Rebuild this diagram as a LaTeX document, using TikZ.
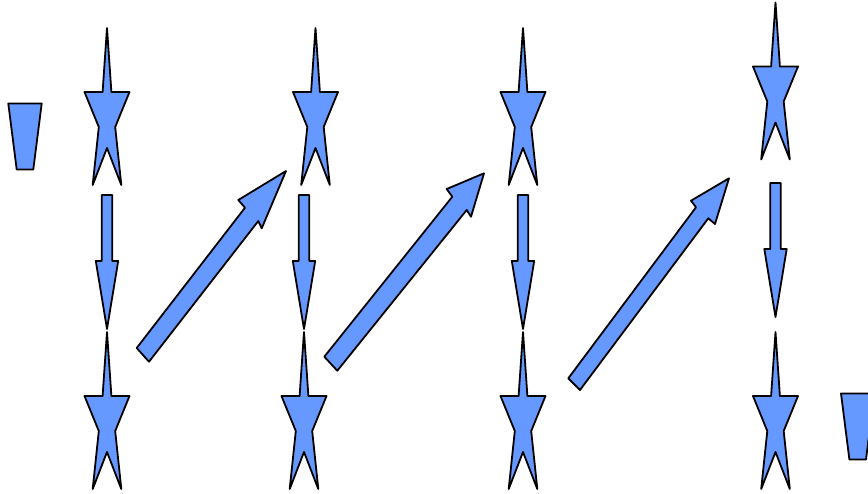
\documentclass[tikz,border=0pt]{standalone}
\usepackage{xcolor}
\usepackage{tikz}
\definecolor{markblue}{RGB}{102,153,255}

\begin{document}
\begin{tikzpicture}[
        x=1pt, y=-1pt,
        blue_shape/.style={draw=black, fill=markblue, line width=1.8pt, line join=round},
        star_mark/.pic={\path[blue_shape] (0,0) -- (4.4,64) -- (22.5,64) -- (8.2,99) -- (14.3,157)
            -- (0,120) -- (-14.3,157) -- (-8.2,99) -- (-22.5,64) -- (-4.4,64) -- cycle;},
        drop_mark/.pic={\path[blue_shape] (-5.3,0) -- (5.3,0) -- (5.3,66) -- (11.2,66) -- (0,134)
            -- (-11.2,66) -- (-5.3,66) -- cycle;},
        cup_mark/.pic={\path[blue_shape] (-16.7,0) -- (16.7,0) -- (8.3,66) -- (-8.3,66) -- cycle;}
            ]

            \useasboundingbox (0,0) rectangle (868,493);

            % Left cup
            \pic (cupl) at (25,103.5) {cup_mark};

            % Column 1
            \pic (s1top) at (107,28) {star_mark};
            \pic (d1)    at (107,195) {drop_mark};
            \pic (s1bot) at (107,332) {star_mark};

            % Column 2
            \pic (s2top) at (315.5,28) {star_mark};
            \pic (d2)    at (304,195) {drop_mark};
            \pic (s2bot) at (304,332) {star_mark};

            % Column 3
            \pic (s3top) at (523,28) {star_mark};
            \pic (d3)    at (523,195) {drop_mark};
            \pic (s3bot) at (523,332) {star_mark};

            % Column 4
            \pic (s4top) at (775.5,2.5) {star_mark};
            \pic (d4)    at (775.5,183) {drop_mark};
            \pic (s4bot) at (775.5,332) {star_mark};

            % Rising arrows
            \path[blue_shape] (136.7,348) -- (245,207.7) -- (238.3,200) -- (286,171)
                -- (261.7,228.3) -- (258.3,221) -- (149,361.7) -- cycle;
            \path[blue_shape] (324.3,356.7) -- (452.3,196.7) -- (446.7,189) -- (484,173.3)
                -- (471,216.7) -- (466.7,210) -- (337.3,370.7) -- cycle;
            \path[blue_shape] (568.3,378.3) -- (696,207.3) -- (691,200.7) -- (729,178.3)
                -- (715,224) -- (708.3,218.3) -- (580,390) -- cycle;

            % Right cup
            \pic (cupr) at (857.7,393.5) {cup_mark};

        \end{tikzpicture}
\end{document}
